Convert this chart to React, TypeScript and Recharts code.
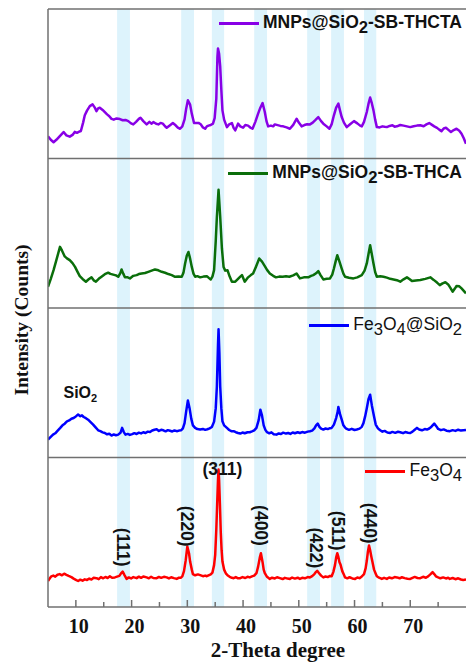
import { ComposedChart, Line, XAxis, YAxis, ReferenceArea, ReferenceLine, ReferenceDot } from "recharts";

// [2-theta, intensity within its own panel (0-100)]
const THCTA: [number, number][] = [
   [5, 14.8], [5.5, 12.5], [6, 10.9], [6.5, 12.5], [7, 14.5], [7.5, 16.5], [7.8, 17.7], [8.3, 15.5], [8.9, 14.6], [9.4, 15.8],
   [9.8, 17.8], [10.2, 17.2], [10.6, 17.9], [10.9, 18.4], [11.3, 24], [11.6, 28.9], [12, 32], [12.5, 35], [13, 36.2], [13.4, 34],
   [13.7, 31.7], [14, 33.5], [14.3, 34], [14.8, 32.5], [15.2, 31], [15.6, 29.5], [16, 28.3], [16.4, 26.5], [16.8, 26], [17.3, 26.8],
   [17.9, 26.4], [18.4, 25.6], [18.9, 25.8], [19.4, 25], [19.9, 23.5], [20.3, 22.8], [20.8, 24.5], [21.3, 26.5], [21.6, 27.3], [22.1, 25],
   [22.7, 22.8], [23.2, 24.5], [23.6, 23.3], [23.9, 24.4], [24.4, 23.2], [24.8, 22.8], [25.2, 23.8], [25.6, 23.3], [26, 21.6], [26.3, 20.6],
   [26.9, 22.3], [27.4, 23.7], [27.9, 22.2], [28.3, 20.6], [28.7, 19.9], [29.1, 21.5], [29.5, 26.2], [29.8, 33.5], [30.1, 38.9], [30.5, 36],
   [30.8, 30], [31.2, 23.8], [31.6, 23.7], [32, 23.8], [32.4, 22.9], [32.8, 20.8], [33.2, 19.9], [33.5, 21.5], [33.8, 22], [34.2, 22.4],
   [34.6, 23.3], [34.9, 27], [35.2, 40], [35.4, 68], [35.5, 73.6], [35.7, 70], [35.9, 61.4], [36.1, 46], [36.3, 32.2], [36.6, 26],
   [37.1, 21], [37.5, 22.8], [38, 23.7], [38.3, 20.5], [38.6, 18.8], [39.1, 23.3], [39.5, 21.5], [40, 20.6], [40.4, 22.4], [40.9, 22],
   [41.3, 20.7], [41.7, 19.9], [42.2, 24.5], [42.7, 30], [43.1, 34], [43.5, 37.1], [43.9, 31.1], [44.2, 25], [44.5, 21.5], [45, 22],
   [45.4, 21.5], [45.7, 22.8], [46.2, 22.3], [46.7, 21.8], [47.2, 21.5], [47.8, 20.8], [48.4, 19.9], [49, 22.5], [49.6, 26.6], [50, 24],
   [50.5, 21.5], [51, 22.4], [51.5, 22.9], [52, 22.8], [52.5, 24], [53, 25.8], [53.5, 27.7], [54, 25], [54.4, 23.3], [55, 21.5],
   [55.5, 19.9], [55.9, 23], [56.3, 28.9], [56.7, 34], [57.1, 36.7], [57.4, 32], [57.7, 27.7], [58.1, 24], [58.6, 21], [59.2, 22.9],
   [59.9, 25], [60.5, 23.5], [61, 22], [61.3, 21.5], [61.7, 24.5], [62.2, 31.1], [62.5, 36.5], [62.8, 40.8], [63.1, 37], [63.4, 32.2],
   [63.7, 26], [64, 21], [64.5, 20.8], [65, 21.5], [65.4, 21.2], [65.8, 21], [66.3, 21.8], [66.8, 22.2], [67.2, 21.3], [67.6, 21.5],
   [68.2, 22.4], [68.8, 22], [69.4, 21.5], [70, 21], [70.6, 21.6], [71.2, 22], [71.8, 22.2], [72.4, 21.6], [72.9, 22.8], [73.4, 23.7],
   [73.9, 22.5], [74.3, 21.5], [74.8, 20.5], [75.2, 19.3], [75.6, 18.3], [76, 20.1], [76.4, 20.6], [76.9, 19], [77.3, 17.7], [77.8, 19],
   [78.3, 19.9], [78.8, 18.6], [79.2, 16.6], [79.6, 13.5], [80, 9.9],
];

const THCA: [number, number][] = [
   [5, 14.2], [5.5, 19.5], [6, 25.3], [6.5, 32], [7.15, 40.9], [7.5, 38.5], [8, 34.5], [8.4, 33.2], [8.9, 32], [9.4, 30],
   [9.85, 27.5], [10.3, 24.2], [10.7, 21.3], [11.2, 19.4], [11.8, 17.6], [12.3, 19.2], [12.8, 20.5], [13.2, 18.5], [13.6, 17.6], [14.1, 19.5],
   [14.6, 20.9], [15.2, 22.6], [15.8, 23.6], [16.2, 22.8], [16.7, 22.3], [17.2, 21.8], [17.6, 20.9], [18, 23.5], [18.2, 25.8], [18.5, 23],
   [18.8, 20.5], [19.2, 20.6], [19.7, 19.8], [20.3, 21.5], [20.9, 22], [21.3, 22.7], [21.8, 23.1], [22.4, 23.4], [23, 24.2], [23.6, 25],
   [24.2, 25.8], [24.8, 25.2], [25.4, 24.2], [26, 23.6], [26.6, 22.7], [27.2, 22], [27.8, 20.9], [28.4, 21], [29, 20.9], [29.3, 23.5],
   [29.6, 29.8], [29.9, 35], [30.2, 37.5], [30.5, 33], [30.8, 27.5], [31.1, 23], [31.4, 20.9], [31.8, 21.3], [32.3, 20.5], [32.9, 21],
   [33.5, 21.3], [33.9, 20], [34.2, 19.1], [34.5, 21], [34.8, 25.3], [35.1, 45], [35.3, 60.9], [35.6, 79.1], [35.9, 60.9], [36.2, 40],
   [36.5, 27.5], [36.8, 25], [37.2, 25.3], [37.6, 21], [38, 17.6], [38.6, 17.6], [39.1, 19.5], [39.5, 21], [39.8, 22], [40.3, 17.6],
   [40.9, 20.5], [41.4, 22], [41.8, 23.1], [42.3, 27.5], [42.9, 33.1], [43.4, 31], [43.9, 28], [44.3, 25.5], [44.8, 23.1], [45.4, 21.5],
   [45.9, 20.5], [46.5, 21], [47.1, 20.9], [47.7, 21.2], [48.3, 20.9], [49, 21.8], [49.6, 23.1], [50.2, 19.8], [50.9, 20.5], [51.7, 20.5],
   [52.2, 21.5], [52.6, 22], [53.1, 23.2], [53.5, 24.7], [53.9, 22], [54.4, 19.1], [55, 19.5], [55.6, 19.8], [56, 22.3], [56.3, 26.4],
   [56.6, 31], [56.9, 35.3], [57.3, 31], [57.7, 26.4], [58, 23], [58.3, 20.9], [59, 20.2], [59.8, 19.8], [60.5, 20.5], [61.3, 22],
   [61.8, 25], [62.2, 29.8], [62.5, 36], [62.8, 42], [63.1, 36], [63.4, 29.8], [63.7, 24], [64, 20.9], [64.6, 21.2], [65.2, 20.9],
   [65.8, 20.3], [66.4, 19.5], [67, 19.1], [67.6, 18.6], [68.2, 17.6], [68.8, 19.2], [69.4, 20.5], [69.9, 19.2], [70.3, 18], [71, 18.4],
   [71.8, 18.7], [72.7, 19.5], [73.6, 20.5], [74.2, 18.8], [74.8, 17], [75.3, 15.3], [75.8, 16.5], [76.3, 17.2], [76.8, 15.8], [77.2, 13.5],
   [77.6, 10.9], [78, 13], [78.3, 14.7], [78.8, 14.5], [79.2, 13.1], [79.6, 11.5], [80, 9.8],
];

const FE3O4_SIO2: [number, number][] = [
   [5, 12], [5.4, 13.5], [5.9, 15.3], [6.3, 16.2], [6.7, 17.8], [7.2, 19.8], [7.6, 21.5], [8, 22.6], [8.4, 24.2], [8.8, 24.8],
   [9.2, 25.9], [9.6, 26.4], [10, 27.5], [10.4, 28.7], [10.8, 27.6], [11.1, 28.2], [11.4, 27.1], [11.8, 26.3], [12.2, 25.3], [12.6, 23.8],
   [13.1, 22], [13.5, 20.3], [14, 18.2], [14.4, 17.6], [14.8, 16.8], [15.2, 16.4], [15.6, 15.5], [16, 15.9], [16.4, 14.7], [16.8, 15.4],
   [17.2, 14.9], [17.6, 15.3], [18, 16.5], [18.3, 19.8], [18.6, 17], [18.9, 15.3], [19.3, 15.8], [19.7, 15.1], [20.1, 15.6], [20.5, 16.3],
   [20.9, 15.7], [21.3, 16.6], [21.7, 16.1], [22.1, 16.9], [22.5, 16.4], [22.9, 17.3], [23.3, 17], [23.7, 18.1], [24.1, 18.6], [24.5, 18.9],
   [24.9, 17.8], [25.3, 18.5], [25.7, 18.2], [26.1, 17.5], [26.5, 18.3], [26.9, 17.9], [27.3, 17.4], [27.7, 18.1], [28.1, 17.6], [28.5, 18],
   [28.9, 18.2], [29.2, 19.5], [29.5, 23], [29.8, 31], [30.1, 38.2], [30.4, 33], [30.7, 26], [31, 21.5], [31.4, 19.8], [31.8, 19],
   [32.3, 18.7], [32.8, 19.1], [33.2, 18.5], [33.6, 18.9], [34, 19.5], [34.4, 20.4], [34.8, 24], [35.1, 33], [35.3, 47.5], [35.5, 75],
   [35.6, 85.8], [35.75, 70], [35.9, 47.5], [36.1, 33], [36.3, 24.2], [36.6, 21.5], [37.1, 19.8], [37.5, 18.4], [37.9, 17.6], [38.3, 17.6],
   [38.7, 16.9], [39.1, 16.4], [39.5, 16], [39.9, 16.7], [40.3, 16.2], [40.8, 16.9], [41.2, 16.9], [41.6, 17.5], [42, 18.2], [42.4, 19.8],
   [42.8, 25], [43.1, 32], [43.4, 28], [43.7, 21.5], [44, 18.5], [44.3, 16.9], [44.7, 16.2], [45.1, 16.8], [45.5, 15.6], [46, 15.3],
   [46.4, 16.1], [46.8, 15.7], [47.2, 16.6], [47.7, 16], [48.1, 16.4], [48.5, 15.8], [48.9, 16.7], [49.3, 16.2], [49.8, 16.9], [50.2, 16.4],
   [50.6, 17], [51.1, 16.6], [51.6, 17.3], [52, 17.6], [52.4, 18], [52.8, 19.5], [53.1, 21.5], [53.4, 22.7], [53.7, 20.5], [54, 19.3],
   [54.4, 18.7], [54.8, 19.4], [55.2, 19], [55.6, 19.6], [55.9, 19.8], [56.3, 22], [56.7, 26.4], [57, 31], [57.1, 33.8], [57.4, 29],
   [57.7, 25.3], [58, 21.5], [58.3, 20], [58.6, 19.1], [59, 18.5], [59.5, 19.2], [60, 18.4], [60.4, 18.7], [60.9, 19.3], [61.3, 20.5],
   [61.6, 23], [61.9, 27.5], [62.2, 33], [62.5, 39], [62.8, 42], [63.1, 35], [63.5, 27.5], [63.8, 22], [64.2, 19.5], [64.6, 18.2],
   [65, 17.3], [65.4, 17.8], [65.9, 16.7], [66.4, 16.4], [66.8, 17.1], [67.3, 16.5], [67.8, 17.2], [68.2, 16.9], [68.7, 16.3], [69.1, 17],
   [69.6, 16.6], [70, 16.4], [70.4, 17.3], [70.8, 18.6], [71.2, 19.8], [71.6, 18.7], [72.1, 18.2], [72.6, 19], [73, 18.7], [73.4, 19.4],
   [73.8, 20.6], [74.3, 22.7], [74.7, 20.8], [75, 19.1], [75.5, 18.3], [76, 18.8], [76.5, 17.9], [77.1, 17.6], [77.6, 18.3], [78.1, 17.8],
   [78.6, 18.6], [79.1, 18], [79.5, 18.2], [80, 18.4],
];

const FE3O4: [number, number][] = [
   [5, 17.4], [5.3, 19], [5.6, 20.5], [5.95, 21], [6.3, 20.3], [6.7, 21.6], [7.1, 22], [7.5, 21.2], [7.9, 22.3], [8.3, 21.5],
   [8.7, 20.8], [9.2, 20], [9.6, 19], [10, 18.2], [10.4, 17.4], [10.8, 18.3], [11.2, 17.6], [11.6, 18.5], [12, 18.1], [12.4, 19],
   [12.8, 18.4], [13.2, 19.5], [13.7, 19.3], [14.1, 18.6], [14.5, 20], [14.9, 19.2], [15.3, 20.1], [15.7, 19.4], [16.1, 20.5], [16.5, 19.6],
   [17, 19.8], [17.4, 20.3], [17.8, 20.8], [18.1, 22.5], [18.4, 23.7], [18.7, 21.5], [19.1, 18.8], [19.5, 19.8], [19.9, 19.1], [20.3, 20],
   [20.9, 19.3], [21.3, 20.3], [21.7, 19.5], [22.1, 20.4], [22.7, 19.8], [23.1, 19.2], [23.5, 20.2], [23.9, 19.4], [24.5, 19.3], [24.9, 20.1],
   [25.3, 19.5], [25.8, 20.2], [26.3, 19.8], [26.7, 19.1], [27.1, 19.9], [27.6, 19.3], [28.1, 18.8], [28.5, 19.6], [28.8, 19.5], [29.1, 20.5],
   [29.4, 24], [29.7, 31], [30, 40.5], [30.3, 36], [30.5, 30.4], [30.8, 25], [31, 22], [31.4, 21.2], [31.9, 21.8], [32.3, 21.3],
   [32.8, 20.6], [33.2, 21], [33.5, 20.6], [33.9, 21.3], [34.2, 21.8], [34.5, 23], [34.8, 28], [35, 34.9], [35.2, 52], [35.35, 68.5],
   [35.5, 85], [35.6, 92], [35.7, 85], [35.85, 68.5], [36, 50], [36.15, 38], [36.3, 30.4], [36.6, 25], [36.9, 22.5], [37.2, 21.3],
   [37.6, 20.2], [38, 19.5], [38.3, 19.3], [38.7, 20], [39.1, 19.2], [39.5, 19.3], [39.9, 20], [40.4, 19.4], [40.8, 20.2], [41.2, 19.8],
   [41.6, 20.5], [42, 21], [42.4, 22.6], [42.7, 27], [43, 33], [43.2, 36], [43.5, 30], [43.7, 25], [43.9, 22.6], [44.3, 20.2],
   [44.8, 18.8], [45.2, 19.6], [45.7, 19.1], [46.1, 19.9], [46.6, 19.3], [47.1, 18.7], [47.5, 19.5], [48, 19], [48.4, 18.8], [48.8, 19.7],
   [49.3, 19], [49.8, 19.6], [50.2, 18.8], [50.6, 19.5], [51.1, 19.2], [51.6, 20], [52, 19.8], [52.4, 20.6], [52.8, 22], [53.1, 23.5],
   [53.3, 24.2], [53.6, 22.8], [54, 21], [54.4, 19.8], [54.8, 20.4], [55.2, 20], [55.6, 20.8], [55.9, 20.6], [56.2, 23.5], [56.5, 28.2],
   [56.7, 33], [56.9, 36], [57.1, 33.5], [57.3, 30], [57.5, 28.2], [57.8, 24], [58.1, 21.5], [58.3, 19.8], [58.7, 19.2], [59.1, 19.9],
   [59.6, 19.1], [60.1, 18.8], [60.5, 19.7], [60.9, 19.3], [61.3, 20.4], [61.7, 22], [62, 26], [62.2, 30.9], [62.4, 37], [62.6, 41.1],
   [62.8, 38], [63, 34], [63.2, 30.4], [63.5, 25], [63.8, 22.3], [64, 20.6], [64.4, 19.6], [64.9, 18.8], [65.3, 19.5], [65.8, 18.8],
   [66.2, 19.7], [66.7, 19.2], [67.2, 20], [67.6, 19.8], [68.1, 19.2], [68.5, 19.9], [69, 19.3], [69.5, 18.9], [70, 18.8], [70.4, 19.5],
   [70.8, 20.1], [71.3, 19.4], [71.8, 19.3], [72.3, 20.2], [72.8, 19.6], [73.2, 20.5], [73.6, 21.8], [74, 23.3], [74.3, 22], [74.6, 20.5],
   [75, 19.8], [75.4, 19.2], [75.9, 19.8], [76.4, 19.1], [76.8, 19.6], [77.1, 18.8], [77.6, 19.4], [78.1, 18.6], [78.6, 19.2], [79.1, 18.4],
   [79.5, 18.1], [80, 18.4],
];

// highlighted Fe3O4 reflections (2-theta ranges)
const BANDS: [number, number][] = [
   [17.4, 19.7], [28.9, 31.2], [34.4, 36.6], [42.0, 44.3], [51.5, 53.8], [55.8, 58.1], [61.7, 63.9],
];

const TICKS = [10, 15, 20, 25, 30, 35, 40, 45, 50, 55, 60, 65, 70, 75];

// Miller indices on the bottom (Fe3O4) panel: label, 2-theta, height, vertical?
const HKL: [string, number, number, boolean][] = [
   ["(111)", 18.5, 40, true],
   ["(220)", 30.0, 54, true],
   ["(311)", 36.3, 92.5, false],
   ["(400)", 43.3, 54.5, true],
   ["(422)", 53.0, 39.5, true],
   ["(511)", 57.1, 51, true],
   ["(440)", 62.7, 56, true],
];

const SERIES = [
   { name: "MNPs@SiO2-SB-THCTA", data: THCTA, color: "#8800e6", panel: 3, bold: true, legendY: 23 },
   { name: "MNPs@SiO2-SB-THCA", data: THCA, color: "#0a6e0a", panel: 2, bold: true, legendY: 173 },
   { name: "Fe3O4@SiO2", data: FE3O4_SIO2, color: "#0000ff", panel: 1, bold: false, legendY: 325 },
   { name: "Fe3O4", data: FE3O4, color: "#ff0000", panel: 0, bold: false, legendY: 471 },
];

const FRAME = "#707070";
const SERIF = "'Liberation Serif', 'Times New Roman', serif";
const SANS = "'Liberation Sans', Arial, sans-serif";

const withSubs = (text: string) =>
   text.split(/(\d)/).map((part, i) =>
      /\d/.test(part) ? (
         <sub key={i} style={{ fontSize: "0.95em", verticalAlign: "-0.28em", lineHeight: 0 }}>
            {part}
         </sub>
      ) : (
         <span key={i}>{part}</span>
      )
   );

const AxisTick = (props: any) => {
   const { x, y, payload } = props;
   const major = payload.value % 10 === 0;
   return (
      <g>
         <line x1={x} x2={x} y1={y} y2={y - (major ? 7 : 5)} stroke={FRAME} strokeWidth={1.5} />
         {major && (
            <text x={x + 3} y={y + 26} textAnchor="middle" fontFamily={SERIF} fontWeight="bold" fontSize={20} fill="#111">
               {payload.value}
            </text>
         )}
      </g>
   );
};

const HklTag = ({ cx, cy, text, vertical }: any) => (
   <text
      x={cx}
      y={cy}
      transform={vertical ? `rotate(90 ${cx} ${cy})` : undefined}
      textAnchor="middle"
      dominantBaseline="central"
      fontFamily={SANS}
      fontWeight="bold"
      fontSize={17.5}
      fill="#111">
      {text}
   </text>
);

const SilicaTag = ({ cx, cy }: any) => (
   <text x={cx} y={cy} textAnchor="middle" fontFamily={SANS} fontWeight="bold" fontSize={16} fill="#111">
      SiO
      <tspan fontSize={11} dy={4}>
         2
      </tspan>
   </text>
);

const App = () => {
   return (
      <div style={{ position: "absolute", left: 0, top: 0, width: 466, height: 664, background: "#fff" }}>
         <ComposedChart width={466} height={664} margin={{ top: 9, right: 0, bottom: 0, left: 0 }}>
            {BANDS.map(([a, b]) => (
               <ReferenceArea key={a} x1={a} x2={b} y1={0} y2={400} fill="#ddf3fc" fillOpacity={1} stroke="none" />
            ))}
            <XAxis
               type="number"
               dataKey="t"
               domain={[5, 80]}
               ticks={TICKS}
               interval={0}
               allowDataOverflow
               height={57}
               tickSize={0}
               tickMargin={0}
               tickLine={false}
               tick={<AxisTick />}
               axisLine={{ stroke: FRAME, strokeWidth: 1.5 }}
               label={{
                  value: "2-Theta degree",
                  position: "insideBottom",
                  offset: 7,
                  dx: 21,
                  style: { fontFamily: SERIF, fontWeight: "bold", fontSize: 21, fill: "#111" },
               }}
            />
            <YAxis
               type="number"
               domain={[0, 400]}
               width={48}
               tick={false}
               tickLine={false}
               axisLine={{ stroke: FRAME, strokeWidth: 1.5 }}
               label={{
                  value: "Intensity (Counts)",
                  angle: -90,
                  position: "center",
                  dx: -3,
                  dy: 12,
                  style: { fontFamily: SERIF, fontWeight: "bold", fontSize: 19.5, fill: "#111" },
               }}
            />
            {[100, 200, 300, 400].map((y) => (
               <ReferenceLine key={y} y={y} stroke={FRAME} strokeWidth={1.5} />
            ))}
            {SERIES.map((s) => (
               <Line
                  key={s.name}
                  data={s.data.map(([t, v]) => ({ t, v: v + s.panel * 100 }))}
                  dataKey="v"
                  type="linear"
                  stroke={s.color}
                  strokeWidth={2.5}
                  strokeLinejoin="round"
                  dot={false}
                  activeDot={false}
                  isAnimationActive={false}
               />
            ))}
            {HKL.map(([text, t, h, vertical]) => (
               <ReferenceDot
                  key={text}
                  x={t}
                  y={h}
                  r={0}
                  shape={(p: any) => <HklTag cx={p.cx} cy={p.cy} text={text} vertical={vertical} />}
               />
            ))}
            <ReferenceDot x={10.8} y={140} r={0} shape={(p: any) => <SilicaTag cx={p.cx} cy={p.cy} />} />
         </ComposedChart>

         {SERIES.map((s) => (
            <div
               key={s.name}
               style={{
                  position: "absolute",
                  right: 4,
                  top: s.legendY - 12,
                  height: 24,
                  display: "flex",
                  alignItems: "center",
                  lineHeight: 1,
                  fontFamily: SANS,
                  fontSize: 17.5,
                  fontWeight: s.bold ? "bold" : "normal",
                  color: "#111",
                  whiteSpace: "nowrap",
               }}>
               <span style={{ display: "inline-block", width: 40, height: 3, background: s.color, marginRight: 4 }} />
               <span>{withSubs(s.name)}</span>
            </div>
         ))}
      </div>
   );
};

export default App;
